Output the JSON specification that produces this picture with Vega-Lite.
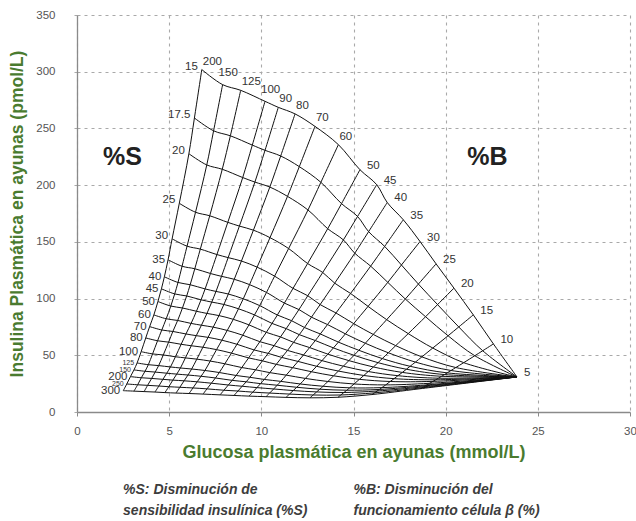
{
"$schema":"https://vega.github.io/schema/vega-lite/v6.json",
"width":553,"height":397,
"autosize":{"type":"none"},
"padding":{"left":77,"top":15,"right":6,"bottom":109},
"config":{"view":{"stroke":null},"font":"Liberation Sans"},
"datasets":{
"regions":[{"x":2.47,"y":225,"t":"%S"},{"x":22.27,"y":225,"t":"%B"}],
"notes":[{"x":2.5,"y":-69,"t":"%S: Disminución de"},{"x":2.5,"y":-87.5,"t":"sensibilidad insulínica (%S)"},{"x":15,"y":-69,"t":"%B: Disminución del"},{"x":15,"y":-87.5,"t":"funcionamiento célula β (%)"}],
"grid":[
{"s":15,"b":200,"x":6.77,"y":301.9},{"s":15,"b":150,"x":7.90,"y":288.6},{"s":15,"b":125,"x":8.88,"y":283.6},{"s":15,"b":100,"x":10.20,"y":273.9},{"s":15,"b":90,"x":10.92,"y":268.6},{"s":15,"b":80,"x":11.83,"y":262.8},{"s":15,"b":70,"x":12.91,"y":251.8},{"s":15,"b":60,"x":14.18,"y":235.7},{"s":15,"b":50,"x":15.35,"y":213.6},{"s":15,"b":45,"x":16.26,"y":200.4},{"s":15,"b":40,"x":16.83,"y":184.7},{"s":15,"b":35,"x":17.70,"y":169.5},{"s":15,"b":30,"x":18.61,"y":150.3},{"s":15,"b":25,"x":19.48,"y":130.6},{"s":15,"b":20,"x":20.45,"y":109.2},{"s":15,"b":15,"x":21.50,"y":85.6},{"s":15,"b":10,"x":22.59,"y":60.0},{"s":15,"b":5,"x":23.87,"y":30.9},
{"s":17.5,"b":200,"x":6.37,"y":259.2},{"s":17.5,"b":150,"x":7.41,"y":247.9},{"s":17.5,"b":125,"x":8.32,"y":243.5},{"s":17.5,"b":100,"x":9.51,"y":235.3},{"s":17.5,"b":90,"x":10.20,"y":230.7},{"s":17.5,"b":80,"x":11.05,"y":225.7},{"s":17.5,"b":70,"x":12.06,"y":216.3},{"s":17.5,"b":60,"x":13.23,"y":202.5},{"s":17.5,"b":50,"x":14.35,"y":183.7},{"s":17.5,"b":45,"x":15.22,"y":172.4},{"s":17.5,"b":40,"x":15.82,"y":159.0},{"s":17.5,"b":35,"x":16.69,"y":146.0},{"s":17.5,"b":30,"x":17.60,"y":129.6},{"s":17.5,"b":25,"x":18.52,"y":112.8},{"s":17.5,"b":20,"x":19.56,"y":94.7},{"s":17.5,"b":15,"x":20.71,"y":75.0},{"s":17.5,"b":10,"x":22.01,"y":54.0},{"s":17.5,"b":5,"x":23.87,"y":30.9},
{"s":20,"b":200,"x":6.07,"y":227.7},{"s":20,"b":150,"x":7.04,"y":217.8},{"s":20,"b":125,"x":7.88,"y":214.0},{"s":20,"b":100,"x":8.99,"y":206.7},{"s":20,"b":90,"x":9.65,"y":202.7},{"s":20,"b":80,"x":10.46,"y":198.3},{"s":20,"b":70,"x":11.42,"y":190.1},{"s":20,"b":60,"x":12.53,"y":178.1},{"s":20,"b":50,"x":13.60,"y":161.6},{"s":20,"b":45,"x":14.45,"y":151.7},{"s":20,"b":40,"x":15.07,"y":140.0},{"s":20,"b":35,"x":15.93,"y":128.6},{"s":20,"b":30,"x":16.86,"y":114.3},{"s":20,"b":25,"x":17.81,"y":99.6},{"s":20,"b":20,"x":18.91,"y":84.0},{"s":20,"b":15,"x":20.13,"y":67.2},{"s":20,"b":10,"x":21.58,"y":49.6},{"s":20,"b":5,"x":23.87,"y":30.9},
{"s":25,"b":200,"x":5.55,"y":184.0},{"s":25,"b":150,"x":6.43,"y":176.1},{"s":25,"b":125,"x":7.20,"y":173.0},{"s":25,"b":100,"x":8.18,"y":167.2},{"s":25,"b":90,"x":8.81,"y":163.9},{"s":25,"b":80,"x":9.57,"y":160.3},{"s":25,"b":70,"x":10.47,"y":153.7},{"s":25,"b":60,"x":11.48,"y":144.1},{"s":25,"b":50,"x":12.51,"y":130.9},{"s":25,"b":45,"x":13.33,"y":123.0},{"s":25,"b":40,"x":13.98,"y":113.6},{"s":25,"b":35,"x":14.84,"y":104.5},{"s":25,"b":30,"x":15.79,"y":93.1},{"s":25,"b":25,"x":16.80,"y":81.4},{"s":25,"b":20,"x":17.97,"y":69.1},{"s":25,"b":15,"x":19.30,"y":56.4},{"s":25,"b":10,"x":20.98,"y":43.5},{"s":25,"b":5,"x":23.87,"y":30.9},
{"s":30,"b":200,"x":5.16,"y":152.7},{"s":30,"b":150,"x":5.97,"y":146.2},{"s":30,"b":125,"x":6.69,"y":143.6},{"s":30,"b":100,"x":7.59,"y":138.8},{"s":30,"b":90,"x":8.20,"y":136.1},{"s":30,"b":80,"x":8.92,"y":133.1},{"s":30,"b":70,"x":9.77,"y":127.7},{"s":30,"b":60,"x":10.72,"y":119.8},{"s":30,"b":50,"x":11.72,"y":109.0},{"s":30,"b":45,"x":12.52,"y":102.5},{"s":30,"b":40,"x":13.19,"y":94.7},{"s":30,"b":35,"x":14.05,"y":87.3},{"s":30,"b":30,"x":15.01,"y":77.9},{"s":30,"b":25,"x":16.07,"y":68.4},{"s":30,"b":20,"x":17.29,"y":58.5},{"s":30,"b":15,"x":18.71,"y":48.6},{"s":30,"b":10,"x":20.55,"y":39.2},{"s":30,"b":5,"x":23.87,"y":30.9},
{"s":35,"b":200,"x":4.94,"y":134.2},{"s":35,"b":150,"x":5.70,"y":128.5},{"s":35,"b":125,"x":6.39,"y":126.3},{"s":35,"b":100,"x":7.24,"y":122.1},{"s":35,"b":90,"x":7.84,"y":119.6},{"s":35,"b":80,"x":8.53,"y":117.0},{"s":35,"b":70,"x":9.36,"y":112.3},{"s":35,"b":60,"x":10.28,"y":105.4},{"s":35,"b":50,"x":11.25,"y":96.0},{"s":35,"b":45,"x":12.04,"y":90.3},{"s":35,"b":40,"x":12.72,"y":83.6},{"s":35,"b":35,"x":13.59,"y":77.1},{"s":35,"b":30,"x":14.56,"y":68.9},{"s":35,"b":25,"x":15.64,"y":60.6},{"s":35,"b":20,"x":16.89,"y":52.2},{"s":35,"b":15,"x":18.36,"y":44.0},{"s":35,"b":10,"x":20.29,"y":36.6},{"s":35,"b":5,"x":23.87,"y":30.9},
{"s":40,"b":200,"x":4.74,"y":119.2},{"s":40,"b":150,"x":5.48,"y":114.2},{"s":40,"b":125,"x":6.14,"y":112.2},{"s":40,"b":100,"x":6.95,"y":108.5},{"s":40,"b":90,"x":7.54,"y":106.3},{"s":40,"b":80,"x":8.21,"y":104.0},{"s":40,"b":70,"x":9.02,"y":99.8},{"s":40,"b":60,"x":9.91,"y":93.8},{"s":40,"b":50,"x":10.87,"y":85.5},{"s":40,"b":45,"x":11.64,"y":80.5},{"s":40,"b":40,"x":12.34,"y":74.5},{"s":40,"b":35,"x":13.20,"y":68.8},{"s":40,"b":30,"x":14.18,"y":61.6},{"s":40,"b":25,"x":15.29,"y":54.4},{"s":40,"b":20,"x":16.56,"y":47.1},{"s":40,"b":15,"x":18.07,"y":40.3},{"s":40,"b":10,"x":20.08,"y":34.5},{"s":40,"b":5,"x":23.87,"y":30.9},
{"s":45,"b":200,"x":4.58,"y":108.6},{"s":45,"b":150,"x":5.30,"y":104.1},{"s":45,"b":125,"x":5.95,"y":102.3},{"s":45,"b":100,"x":6.73,"y":98.9},{"s":45,"b":90,"x":7.31,"y":96.9},{"s":45,"b":80,"x":7.97,"y":94.8},{"s":45,"b":70,"x":8.76,"y":91.0},{"s":45,"b":60,"x":9.63,"y":85.6},{"s":45,"b":50,"x":10.58,"y":78.1},{"s":45,"b":45,"x":11.35,"y":73.5},{"s":45,"b":40,"x":12.06,"y":68.2},{"s":45,"b":35,"x":12.93,"y":63.0},{"s":45,"b":30,"x":13.91,"y":56.5},{"s":45,"b":25,"x":15.03,"y":50.0},{"s":45,"b":20,"x":16.33,"y":43.5},{"s":45,"b":15,"x":17.87,"y":37.7},{"s":45,"b":10,"x":19.94,"y":33.0},{"s":45,"b":5,"x":23.87,"y":30.9},
{"s":50,"b":200,"x":4.39,"y":97.4},{"s":50,"b":150,"x":5.09,"y":93.4},{"s":50,"b":125,"x":5.72,"y":91.7},{"s":50,"b":100,"x":6.48,"y":88.8},{"s":50,"b":90,"x":7.05,"y":86.9},{"s":50,"b":80,"x":7.70,"y":85.0},{"s":50,"b":70,"x":8.48,"y":81.7},{"s":50,"b":60,"x":9.33,"y":76.8},{"s":50,"b":50,"x":10.27,"y":70.2},{"s":50,"b":45,"x":11.04,"y":66.2},{"s":50,"b":40,"x":11.75,"y":61.4},{"s":50,"b":35,"x":12.62,"y":56.8},{"s":50,"b":30,"x":13.61,"y":51.0},{"s":50,"b":25,"x":14.75,"y":45.3},{"s":50,"b":20,"x":16.08,"y":39.7},{"s":50,"b":15,"x":17.65,"y":34.9},{"s":50,"b":10,"x":19.78,"y":31.5},{"s":50,"b":5,"x":23.87,"y":30.9},
{"s":60,"b":200,"x":4.17,"y":85.6},{"s":60,"b":150,"x":4.84,"y":82.2},{"s":60,"b":125,"x":5.46,"y":80.7},{"s":60,"b":100,"x":6.19,"y":78.1},{"s":60,"b":90,"x":6.75,"y":76.5},{"s":60,"b":80,"x":7.39,"y":74.8},{"s":60,"b":70,"x":8.15,"y":71.9},{"s":60,"b":60,"x":8.99,"y":67.7},{"s":60,"b":50,"x":9.92,"y":62.0},{"s":60,"b":45,"x":10.69,"y":58.5},{"s":60,"b":40,"x":11.42,"y":54.3},{"s":60,"b":35,"x":12.29,"y":50.3},{"s":60,"b":30,"x":13.29,"y":45.3},{"s":60,"b":25,"x":14.45,"y":40.4},{"s":60,"b":20,"x":15.80,"y":35.7},{"s":60,"b":15,"x":17.41,"y":32.0},{"s":60,"b":10,"x":19.61,"y":29.8},{"s":60,"b":5,"x":23.87,"y":30.9},
{"s":70,"b":200,"x":3.94,"y":75.3},{"s":70,"b":150,"x":4.60,"y":72.3},{"s":70,"b":125,"x":5.20,"y":71.0},{"s":70,"b":100,"x":5.91,"y":68.8},{"s":70,"b":90,"x":6.47,"y":67.3},{"s":70,"b":80,"x":7.11,"y":65.8},{"s":70,"b":70,"x":7.86,"y":63.3},{"s":70,"b":60,"x":8.68,"y":59.7},{"s":70,"b":50,"x":9.61,"y":54.7},{"s":70,"b":45,"x":10.37,"y":51.7},{"s":70,"b":40,"x":11.11,"y":48.1},{"s":70,"b":35,"x":11.99,"y":44.6},{"s":70,"b":30,"x":13.00,"y":40.3},{"s":70,"b":25,"x":14.18,"y":36.1},{"s":70,"b":20,"x":15.56,"y":32.2},{"s":70,"b":15,"x":17.20,"y":29.4},{"s":70,"b":10,"x":19.46,"y":28.4},{"s":70,"b":5,"x":23.87,"y":30.9},
{"s":80,"b":200,"x":3.73,"y":65.3},{"s":80,"b":150,"x":4.37,"y":62.8},{"s":80,"b":125,"x":4.97,"y":61.6},{"s":80,"b":100,"x":5.65,"y":59.7},{"s":80,"b":90,"x":6.20,"y":58.4},{"s":80,"b":80,"x":6.83,"y":57.1},{"s":80,"b":70,"x":7.57,"y":55.0},{"s":80,"b":60,"x":8.38,"y":51.9},{"s":80,"b":50,"x":9.31,"y":47.7},{"s":80,"b":45,"x":10.06,"y":45.1},{"s":80,"b":40,"x":10.81,"y":42.0},{"s":80,"b":35,"x":11.70,"y":39.1},{"s":80,"b":30,"x":12.72,"y":35.5},{"s":80,"b":25,"x":13.92,"y":31.9},{"s":80,"b":20,"x":15.32,"y":28.8},{"s":80,"b":15,"x":16.99,"y":26.9},{"s":80,"b":10,"x":19.31,"y":27.0},{"s":80,"b":5,"x":23.87,"y":30.9},
{"s":100,"b":200,"x":3.48,"y":53.2},{"s":100,"b":150,"x":4.10,"y":51.2},{"s":100,"b":125,"x":4.68,"y":50.3},{"s":100,"b":100,"x":5.34,"y":48.7},{"s":100,"b":90,"x":5.88,"y":47.7},{"s":100,"b":80,"x":6.50,"y":46.6},{"s":100,"b":70,"x":7.23,"y":44.9},{"s":100,"b":60,"x":8.02,"y":42.5},{"s":100,"b":50,"x":8.94,"y":39.2},{"s":100,"b":45,"x":9.69,"y":37.2},{"s":100,"b":40,"x":10.46,"y":34.7},{"s":100,"b":35,"x":11.35,"y":32.5},{"s":100,"b":30,"x":12.39,"y":29.6},{"s":100,"b":25,"x":13.61,"y":26.9},{"s":100,"b":20,"x":15.03,"y":24.7},{"s":100,"b":15,"x":16.75,"y":23.9},{"s":100,"b":10,"x":19.13,"y":25.3},{"s":100,"b":5,"x":23.87,"y":30.9},
{"s":125,"b":200,"x":3.26,"y":43.2},{"s":125,"b":150,"x":3.87,"y":41.7},{"s":125,"b":125,"x":4.43,"y":40.9},{"s":125,"b":100,"x":5.07,"y":39.7},{"s":125,"b":90,"x":5.61,"y":38.8},{"s":125,"b":80,"x":6.22,"y":37.9},{"s":125,"b":70,"x":6.94,"y":36.6},{"s":125,"b":60,"x":7.72,"y":34.8},{"s":125,"b":50,"x":8.63,"y":32.2},{"s":125,"b":45,"x":9.38,"y":30.6},{"s":125,"b":40,"x":10.16,"y":28.7},{"s":125,"b":35,"x":11.06,"y":27.0},{"s":125,"b":30,"x":12.11,"y":24.7},{"s":125,"b":25,"x":13.35,"y":22.7},{"s":125,"b":20,"x":14.79,"y":21.3},{"s":125,"b":15,"x":16.54,"y":21.5},{"s":125,"b":10,"x":18.99,"y":23.9},{"s":125,"b":5,"x":23.87,"y":30.9},
{"s":150,"b":200,"x":3.09,"y":37.1},{"s":150,"b":150,"x":3.69,"y":35.9},{"s":150,"b":125,"x":4.24,"y":35.2},{"s":150,"b":100,"x":4.87,"y":34.2},{"s":150,"b":90,"x":5.41,"y":33.4},{"s":150,"b":80,"x":6.02,"y":32.6},{"s":150,"b":70,"x":6.73,"y":31.5},{"s":150,"b":60,"x":7.51,"y":30.0},{"s":150,"b":50,"x":8.42,"y":27.9},{"s":150,"b":45,"x":9.18,"y":26.6},{"s":150,"b":40,"x":9.96,"y":25.0},{"s":150,"b":35,"x":10.86,"y":23.6},{"s":150,"b":30,"x":11.92,"y":21.8},{"s":150,"b":25,"x":13.17,"y":20.1},{"s":150,"b":20,"x":14.64,"y":19.2},{"s":150,"b":15,"x":16.41,"y":19.9},{"s":150,"b":10,"x":18.89,"y":23.1},{"s":150,"b":5,"x":23.87,"y":30.9},
{"s":200,"b":200,"x":2.90,"y":31.2},{"s":200,"b":150,"x":3.49,"y":30.2},{"s":200,"b":125,"x":4.05,"y":29.6},{"s":200,"b":100,"x":4.66,"y":28.8},{"s":200,"b":90,"x":5.20,"y":28.1},{"s":200,"b":80,"x":5.81,"y":27.5},{"s":200,"b":70,"x":6.52,"y":26.6},{"s":200,"b":60,"x":7.29,"y":25.4},{"s":200,"b":50,"x":8.21,"y":23.8},{"s":200,"b":45,"x":8.96,"y":22.7},{"s":200,"b":40,"x":9.76,"y":21.5},{"s":200,"b":35,"x":10.67,"y":20.3},{"s":200,"b":30,"x":11.73,"y":18.9},{"s":200,"b":25,"x":13.00,"y":17.7},{"s":200,"b":20,"x":14.48,"y":17.2},{"s":200,"b":15,"x":16.28,"y":18.5},{"s":200,"b":10,"x":18.80,"y":22.2},{"s":200,"b":5,"x":23.87,"y":30.9},
{"s":250,"b":200,"x":2.70,"y":24.7},{"s":250,"b":150,"x":3.29,"y":24.0},{"s":250,"b":125,"x":3.83,"y":23.5},{"s":250,"b":100,"x":4.44,"y":22.9},{"s":250,"b":90,"x":4.98,"y":22.3},{"s":250,"b":80,"x":5.58,"y":21.8},{"s":250,"b":70,"x":6.29,"y":21.2},{"s":250,"b":60,"x":7.05,"y":20.4},{"s":250,"b":50,"x":7.97,"y":19.2},{"s":250,"b":45,"x":8.73,"y":18.5},{"s":250,"b":40,"x":9.54,"y":17.5},{"s":250,"b":35,"x":10.45,"y":16.7},{"s":250,"b":30,"x":11.53,"y":15.8},{"s":250,"b":25,"x":12.81,"y":15.0},{"s":250,"b":20,"x":14.31,"y":15.0},{"s":250,"b":15,"x":16.14,"y":16.9},{"s":250,"b":10,"x":18.70,"y":21.3},{"s":250,"b":5,"x":23.87,"y":30.9},
{"s":300,"b":200,"x":2.51,"y":18.8},{"s":300,"b":150,"x":3.09,"y":18.4},{"s":300,"b":125,"x":3.64,"y":18.0},{"s":300,"b":100,"x":4.23,"y":17.6},{"s":300,"b":90,"x":4.77,"y":17.1},{"s":300,"b":80,"x":5.37,"y":16.7},{"s":300,"b":70,"x":6.08,"y":16.3},{"s":300,"b":60,"x":6.84,"y":15.8},{"s":300,"b":50,"x":7.76,"y":15.1},{"s":300,"b":45,"x":8.52,"y":14.6},{"s":300,"b":40,"x":9.33,"y":14.0},{"s":300,"b":35,"x":10.25,"y":13.5},{"s":300,"b":30,"x":11.34,"y":12.9},{"s":300,"b":25,"x":12.64,"y":12.5},{"s":300,"b":20,"x":14.16,"y":13.0},{"s":300,"b":15,"x":16.00,"y":15.4},{"s":300,"b":10,"x":18.61,"y":20.5},{"s":300,"b":5,"x":23.87,"y":30.9}
]},
"encoding":{
"x":{"field":"x","type":"quantitative","scale":{"domain":[0,30],"nice":false,"zero":false},
"axis":{"values":[0,5,10,15,20,25,30],"grid":true,"gridColor":"#a9a9a9","gridDash":[3,4],"gridWidth":1.1,"domainColor":"#8a8a8a","domainWidth":1.3,"tickColor":"#8a8a8a","tickSize":4,"labelColor":"#555555","labelFontSize":11.5,"labelPadding":9,"labelFlush":false,"title":"Glucosa plasmática en ayunas (mmol/L)","titleColor":"#4a7b2f","titleFontSize":18,"titleFontWeight":"bold","titlePadding":7}},
"y":{"field":"y","type":"quantitative","scale":{"domain":[0,350],"nice":false,"zero":false},
"axis":{"values":[0,50,100,150,200,250,300,350],"grid":true,"gridColor":"#a9a9a9","gridDash":[3,4],"gridWidth":1.1,"domainColor":"#8a8a8a","domainWidth":1.3,"tickColor":"#a9a9a9","tickSize":5,"tickDash":[3,3],"labelColor":"#555555","labelFontSize":11.5,"labelPadding":17,"labelFlush":false,"title":"Insulina Plasmática en ayunas (pmol/L)","titleColor":"#4a7b2f","titleFontSize":17.5,"titleFontWeight":"bold","titlePadding":9}}
},
"layer":[
{"data":{"name":"grid"},"mark":{"type":"line","interpolate":"catmull-rom","color":"#111111","strokeWidth":1.0},
"encoding":{"detail":{"field":"s","type":"nominal"},"order":{"field":"b","type":"quantitative","sort":"descending"}}},
{"data":{"name":"grid"},"transform":[{"filter":"datum.b > 5"}],"mark":{"type":"line","interpolate":"catmull-rom","color":"#111111","strokeWidth":1.0},
"encoding":{"detail":{"field":"b","type":"nominal"},"order":{"field":"s","type":"quantitative"}}},
{"data":{"name":"grid"},"transform":[{"filter":"datum.b == 200 && datum.s <= 30"}],"mark":{"type":"text","align":"right","baseline":"middle","dx":-4,"dy":-3,"fontSize":11.5,"color":"#333333"},
"encoding":{"text":{"field":"s","type":"nominal"}}},
{"data":{"name":"grid"},"transform":[{"filter":"datum.b == 200 && datum.s > 30"}],"mark":{"type":"text","align":"right","baseline":"middle","dx":-3,"dy":0,"color":"#333333"},
"encoding":{"text":{"field":"s","type":"nominal"},"size":{"condition":{"test":"datum.s == 125 || datum.s == 150 || datum.s == 250","value":7},"value":11.5}}},
{"data":{"name":"grid"},"transform":[{"filter":"datum.s == 15 && datum.b >= 60 && datum.b != 100 && datum.b != 150"}],"mark":{"type":"text","align":"left","baseline":"middle","dx":1,"dy":-8,"fontSize":11.5,"color":"#333333"},
"encoding":{"text":{"field":"b","type":"nominal"}}},
{"data":{"name":"grid"},"transform":[{"filter":"datum.s == 15 && (datum.b == 100 || datum.b == 150)"}],"mark":{"type":"text","align":"left","baseline":"middle","dx":-4,"dy":-11.5,"fontSize":11.5,"color":"#333333"},
"encoding":{"text":{"field":"b","type":"nominal"}}},
{"data":{"name":"grid"},"transform":[{"filter":"datum.s == 15 && datum.b < 60"}],"mark":{"type":"text","align":"left","baseline":"middle","dx":7,"dy":-4,"fontSize":11.5,"color":"#333333"},
"encoding":{"text":{"field":"b","type":"nominal"}}},
{"data":{"name":"regions"},"mark":{"type":"text","align":"center","baseline":"middle","fontSize":25,"fontWeight":"bold","color":"#222222"},
"encoding":{"text":{"field":"t","type":"nominal"}}},
{"data":{"name":"notes"},"mark":{"type":"text","align":"left","baseline":"middle","fontSize":14,"fontWeight":"bold","fontStyle":"italic","color":"#3d3d3d"},
"encoding":{"text":{"field":"t","type":"nominal"}}}
]
}
